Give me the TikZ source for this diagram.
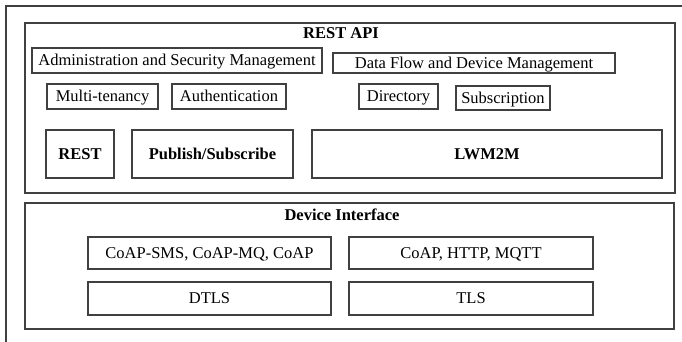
\documentclass[tikz,border=0pt]{standalone}
\usepackage{fontspec}
\setmainfont{Liberation Serif}
\tikzset{
  frame/.style={draw=black!75, line width=1.1pt},
  pbox/.style={draw=black!75, line width=1.1pt, rectangle, inner sep=0pt,
    text height=10.9pt, text depth=0pt,
    font=\fontsize{16.5}{18}\selectfont},
  bbox/.style={pbox, font=\fontsize{16.5}{18}\selectfont\bfseries},
  ttl/.style={font=\fontsize{16.5}{18}\selectfont\bfseries, inner sep=0pt,
    text height=10.9pt, text depth=0pt}
}
% box from corner (x1,y1) to (x2,y2): name, x1, y1, x2, y2, style, text
\newcommand\placebox[7]{%
  \node[#6, minimum width={(#4-#2)*1pt}, minimum height={(#5-#3)*1pt}]
    (#1) at ({(#2+#4)/2},{(#3+#5)/2}) {#7};}
\begin{document}
\begin{tikzpicture}[x=1pt,y=-1pt]
  \useasboundingbox (0,0) rectangle (682,342);
  \clip (0,0) rectangle (682,342);
  % outer frame, running past the right and bottom edges
  \draw[frame] (6,360) -- (6,6) -- (700,6);
  % REST API layer
  \placebox{restapi}{25}{23}{675}{193}{pbox}{}
  \node[ttl] (restttl) at (341,33.5) {REST API};
  \placebox{admin}{32}{48}{322}{73}{pbox}{Administration and Security Management}
  \placebox{dataflow}{333}{53}{615}{73}{pbox}{Data Flow and Device Management}
  \placebox{multi}{47}{84}{158}{109}{pbox}{Multi-tenancy}
  \placebox{auth}{172}{84}{286}{109}{pbox}{Authentication}
  \placebox{directory}{359}{84}{438}{109}{pbox}{Directory}
  \placebox{subscr}{456}{86}{550}{110}{pbox}{Subscription}
  \placebox{rest}{46}{130}{114}{178}{bbox}{REST}
  \placebox{pubsub}{132}{130}{293}{178}{bbox}{Publish/Subscribe}
  \placebox{lwm2m}{312}{130}{662}{178}{bbox}{LWM2M}
  % Device Interface layer
  \placebox{device}{25}{203}{674}{329}{pbox}{}
  \node[ttl] (devttl) at (342,215.5) {Device Interface};
  \placebox{coapsms}{88}{237}{331}{269}{pbox}{CoAP-SMS, CoAP-MQ, CoAP}
  \placebox{dtls}{88}{282}{331}{315}{pbox}{DTLS}
  \placebox{coaphttp}{349}{237}{593}{269}{pbox}{CoAP, HTTP, MQTT}
  \placebox{tls}{349}{282}{593}{315}{pbox}{TLS}
\end{tikzpicture}
\end{document}
